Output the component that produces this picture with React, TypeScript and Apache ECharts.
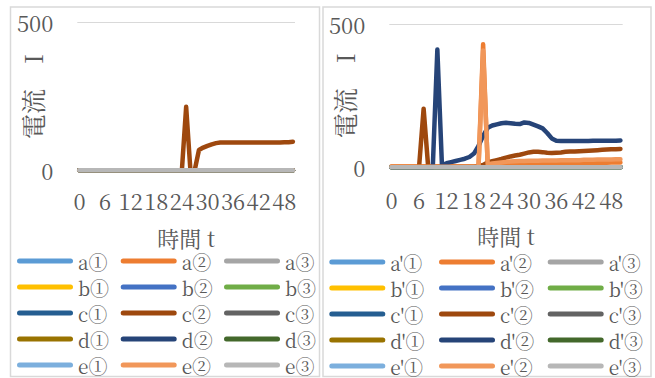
import React, { useEffect, useRef } from "react";
import * as echarts from "echarts";

// Time steps on the horizontal axis
const TIME = [
  "0", "1", "2", "3", "4", "5", "6", "7", "8", "9",
  "10", "11", "12", "13", "14", "15", "16", "17", "18", "19",
  "20", "21", "22", "23", "24", "25", "26", "27", "28", "29",
  "30", "31", "32", "33", "34", "35", "36", "37", "38", "39",
  "40", "41", "42", "43", "44", "45", "46", "47", "48", "49",
  "50",
];

const Y_MIN = 0;
const Y_MAX = 500;

const NAMES_LEFT = [
  "a①", "a②", "a③", "b①", "b②", "b③", "c①", "c②", "c③",
  "d①", "d②", "d③", "e①", "e②", "e③",
];
const NAMES_RIGHT = [
  "a'①", "a'②", "a'③", "b'①", "b'②", "b'③", "c'①", "c'②", "c'③",
  "d'①", "d'②", "d'③", "e'①", "e'②", "e'③",
];
const COLORS = [
  "#5B9BD5", "#ED7D31", "#A5A5A5", "#FFC000", "#4472C4", "#70AD47",
  "#255E91", "#9E480E", "#636363", "#997300", "#264478", "#43682B",
  "#7CAFDD", "#F1975A", "#B7B7B7",
];

// Current readings (all series that stay at zero share this list)
const ZEROS = [
  0, 0, 0, 0, 0, 0, 0, 0, 0, 0, 0, 0, 0, 0, 0, 0, 0, 0, 0, 0,
  0, 0, 0, 0, 0, 0, 0, 0, 0, 0, 0, 0, 0, 0, 0, 0, 0, 0, 0, 0,
  0, 0, 0, 0, 0, 0, 0, 0, 0, 0, 0,
];

const C2_LEFT = [
  0, 0, 0, 0, 0, 0, 0, 0, 0, 0, 0, 0, 0, 0, 0, 0, 0, 0, 0, 0,
  0, 0, 0, 0, 0, 215, 0, 0, 69, 77, 83, 88, 92, 94, 94, 94, 94, 94, 94, 94,
  94, 94, 94, 94, 94, 94, 94, 94, 95, 95, 97,
];

const A2_RIGHT = [
  4, 4, 4, 4, 4, 4, 4, 4, 4, 4, 4, 4, 4, 4, 4, 4, 4, 4, 4, 4,
  430, 6, 8, 9, 10, 11, 12, 12, 13, 13, 14, 14, 14, 14, 14, 14, 14, 14, 14, 14,
  15, 15, 15, 15, 16, 16, 16, 16, 17, 17, 17,
];
const C2_RIGHT = [
  0, 0, 0, 0, 0, 0, 0, 205, 0, 1, 1, 1, 1, 1, 1, 1, 1, 1, 1, 4,
  8, 17, 21, 25, 29, 34, 38, 41, 44, 48, 52, 54, 54, 53, 51, 50, 51, 52, 54, 55,
  55, 56, 57, 58, 59, 60, 61, 62, 63, 63, 64,
];
const D2_RIGHT = [
  0, 0, 0, 0, 0, 0, 0, 0, 0, 0, 412, 8, 14, 18, 22, 26, 30, 36, 48, 75,
  110, 138, 146, 150, 154, 156, 154, 152, 151, 157, 155, 149, 143, 136, 120, 101, 93, 92, 92, 92,
  92, 92, 92, 92, 93, 93, 93, 93, 93, 93, 94,
];
const E2_RIGHT = [
  2, 2, 2, 2, 2, 2, 2, 2, 2, 2, 2, 2, 2, 2, 2, 2, 2, 2, 2, 2,
  408, 10, 13, 15, 17, 19, 20, 21, 22, 22, 23, 23, 23, 24, 24, 24, 24, 25, 25, 25,
  25, 25, 26, 26, 26, 27, 27, 27, 27, 28, 28,
];

const LEFT_VALUES: Record<string, number[]> = { "c②": C2_LEFT };
const RIGHT_VALUES: Record<string, number[]> = {
  "a'②": A2_RIGHT,
  "c'②": C2_RIGHT,
  "d'②": D2_RIGHT,
  "e'②": E2_RIGHT,
};

const SERIF = "Noto Serif CJK JP";
const TEXT = "#595959";
const GRID_LINE = "#D9D9D9";
const LEGEND_ICON =
  "path://M2.5,0H53.5A2.5,2.5,0,0,1,53.5,5H2.5A2.5,2.5,0,0,1,2.5,0Z";

function axesFor(gridIndex: number, labelMargin: number, nameGap: number) {
  const xAxis = {
    type: "category",
    gridIndex,
    data: TIME,
    boundaryGap: true,
    axisTick: { show: false },
    axisLine: { lineStyle: { color: GRID_LINE } },
    axisLabel: {
      interval: 5,
      hideOverlap: false,
      fontSize: 22,
      lineHeight: 20,
      color: TEXT,
      margin: labelMargin,
      fontFamily: SERIF,
    },
    name: "時間 t",
    nameLocation: "middle",
    nameGap,
    nameMoveOverlap: false,
    nameTextStyle: { fontSize: 22, lineHeight: 20, color: TEXT, fontFamily: SERIF },
  };
  const yAxis = {
    type: "value",
    gridIndex,
    min: Y_MIN,
    max: Y_MAX,
    interval: 500,
    axisLine: { show: false },
    axisTick: { show: false },
    splitLine: { lineStyle: { color: GRID_LINE, width: 1 } },
    axisLabel: { fontSize: 22, color: TEXT, margin: 24, fontFamily: SERIF },
    name: "電流　I",
    nameLocation: "middle",
    nameRotate: 90,
    nameGap: 33,
    nameMoveOverlap: false,
    nameTextStyle: { fontSize: 25, color: TEXT, fontFamily: SERIF },
  };
  return { xAxis, yAxis };
}

function seriesFor(names: string[], values: Record<string, number[]>, axisIndex: number) {
  return names.map((name, k) => ({
    type: "line",
    name,
    xAxisIndex: axisIndex,
    yAxisIndex: axisIndex,
    data: values[name] || ZEROS,
    color: COLORS[k],
    symbol: "none",
    showSymbol: false,
    silent: true,
    emphasis: { disabled: true },
    lineStyle: { width: 4.5, cap: "round", join: "round", color: COLORS[k] },
  }));
}

function legendColumns(names: string[], lefts: number[], top: number) {
  return lefts.map((left, col) => ({
    orient: "vertical",
    left,
    top,
    width: 100,
    height: 200,
    padding: 0,
    itemWidth: 56,
    itemHeight: 20,
    itemGap: 6,
    icon: LEGEND_ICON,
    selectedMode: false,
    data: [0, 1, 2, 3, 4].map((row) => names[row * 3 + col]),
    textStyle: { fontSize: 19, lineHeight: 20, color: TEXT, fontFamily: SERIF },
  }));
}

export default function App() {
  const ref = useRef<HTMLDivElement>(null);

  useEffect(() => {
    if (!ref.current) return;
    const chart = echarts.init(ref.current, undefined, { renderer: "svg" });
    const left = axesFor(0, 20, 57);
    const right = axesFor(1, 22, 58);

    chart.setOption({
      animation: false,
      backgroundColor: "#ffffff",
      grid: [
        { left: 77.3, top: 22.7, width: 217.7, height: 147.6, outerBoundsMode: "none", containLabel: false },
        { left: 389.3, top: 24.3, width: 233.4, height: 143, outerBoundsMode: "none", containLabel: false },
      ],
      xAxis: [left.xAxis, right.xAxis],
      yAxis: [left.yAxis, right.yAxis],
      legend: [
        ...legendColumns(NAMES_LEFT, [17, 120.7, 224], 251),
        ...legendColumns(NAMES_RIGHT, [329.3, 439, 547.7], 252),
      ],
      graphic: [
        {
          type: "rect",
          shape: { x: 10.5, y: 7, width: 309, height: 369.5 },
          style: { fill: "none", stroke: GRID_LINE, lineWidth: 1.5 },
          silent: true,
        },
        {
          type: "rect",
          shape: { x: 323, y: 7, width: 328, height: 369.5 },
          style: { fill: "none", stroke: GRID_LINE, lineWidth: 1.5 },
          silent: true,
        },
      ],
      series: [
        ...seriesFor(NAMES_LEFT, LEFT_VALUES, 0),
        ...seriesFor(NAMES_RIGHT, RIGHT_VALUES, 1),
      ],
    });

    return () => chart.dispose();
  }, []);

  return (
    <div
      ref={ref}
      style={{ position: "absolute", left: 0, top: 0, width: 655, height: 378 }}
    />
  );
}
